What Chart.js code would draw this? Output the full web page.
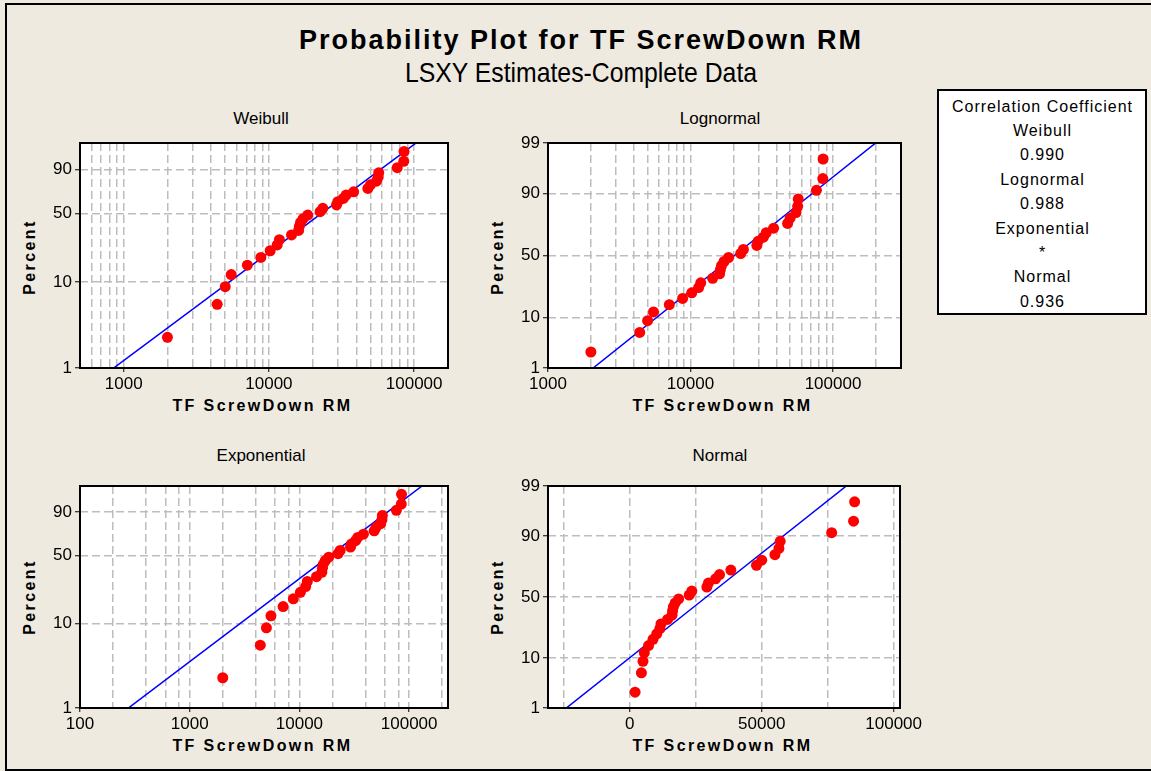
<!DOCTYPE html>
<html>
<head>
<meta charset="utf-8">
<title>Probability Plot for TF ScrewDown RM</title>
<script src="https://cdn.jsdelivr.net/npm/chart.js@4.4.1/dist/chart.umd.min.js"></script>
<style>
  body { margin: 0; background: #EEEAE0; font-family: "Liberation Sans", Arial, sans-serif; }
  #page { position: relative; width: 1151px; height: 771px; overflow: hidden; }
  #frame { position: absolute; left: 5px; top: 3px; width: 1200px; height: 764px; border: 2px solid #000; }
  .txt { position: absolute; white-space: nowrap; color: #000; text-align: center; }
  #title { left: 279px; top: 27px; width: 600px; font-size: 27px; line-height: 27px; font-weight: bold; letter-spacing: 2px; padding-left: 2px; }
  #subtitle { left: 381px; top: 59px; width: 400px; font-size: 28px; line-height: 28px; transform: scaleX(0.885); }
  .ptitle { width: 200px; font-size: 17px; line-height: 17px; }
  .xtitle { width: 300px; font-size: 16px; line-height: 16px; font-weight: bold; letter-spacing: 2.4px; padding-left: 2.4px; }
  .ytitle { width: 120px; height: 16px; font-size: 16px; line-height: 16px; font-weight: bold; letter-spacing: 2.4px; transform: rotate(-90deg); }
  #corr { position: absolute; left: 937px; top: 89px; width: 210px; height: 226px; box-sizing: border-box;
          border: 2px solid #000; background: #fff; text-align: center; font-size: 16px; line-height: 24.4px;
          letter-spacing: 1px; padding-top: 3.5px; padding-left: 1px; }
  canvas { position: absolute; }
</style>
</head>
<body>
<div id="page">
  <div id="frame"></div>
  <div class="txt" id="title">Probability Plot for TF ScrewDown RM</div>
  <div class="txt" id="subtitle">LSXY Estimates-Complete Data</div>

  <div class="txt ptitle" style="left:161px; top:110px;">Weibull</div>
  <div class="txt ptitle" style="left:620px; top:110px;">Lognormal</div>
  <div class="txt ptitle" style="left:161px; top:447px;">Exponential</div>
  <div class="txt ptitle" style="left:620px; top:447px;">Normal</div>

  <div class="txt xtitle" style="left:110px; top:398px;">TF ScrewDown RM</div>
  <div class="txt xtitle" style="left:570px; top:398px;">TF ScrewDown RM</div>
  <div class="txt xtitle" style="left:110px; top:738px;">TF ScrewDown RM</div>
  <div class="txt xtitle" style="left:570px; top:738px;">TF ScrewDown RM</div>

  <div class="txt ytitle" style="left:-30px; top:249px;">Percent</div>
  <div class="txt ytitle" style="left:438px; top:249px;">Percent</div>
  <div class="txt ytitle" style="left:-30px; top:589px;">Percent</div>
  <div class="txt ytitle" style="left:438px; top:589px;">Percent</div>

  <div id="corr"></div>
</div>

<script>
// observed values (sorted) and their plotted percents
const screwDownRM = [2000, 4400, 5000, 5500, 7100, 8800, 10200, 11400, 11800, 14300,
  16000, 16200, 16500, 17200, 18500, 22500, 23500, 29200, 29800, 32500,
  34000, 38300, 48000, 50000, 55000, 56500, 57000, 76500, 84800, 85200];
const percentRank = [2.30, 5.59, 8.88, 12.17, 15.46, 18.75, 22.04, 25.33, 28.62, 31.91,
  35.20, 38.49, 41.78, 45.07, 48.36, 51.64, 54.93, 58.22, 61.51, 64.80,
  68.09, 71.38, 74.67, 77.96, 81.25, 84.54, 87.83, 91.12, 94.41, 97.70];

// fitted distributions (LSXY)
const weibullFit = [1.285, 30600];      // shape, scale
const lognormalFit = [9.92, 0.981];     // location, scale
const exponentialFit = [27500];         // mean
const normalFit = [29000, 22800];       // mean, st dev
const fitPercents = [0.5, 50, 99.7];

// correlation box
const distNames = ["Weibull", "Lognormal", "Exponential", "Normal"];
const corrCoeff = ["0.990", "0.988", "*", "0.936"];

// tick labels and grid lines
const yLabelsWide = [1, 10, 50, 90, 99];
const yLabelsShort = [1, 10, 50, 90];
const weibullXLabels = [1000, 10000, 100000];
const weibullXGrid = [600, 700, 800, 900, 1000, 2000, 3000, 4000, 5000, 6000, 7000, 8000, 9000,
  10000, 20000, 30000, 40000, 50000, 60000, 70000, 80000, 90000, 100000];
const lognormalXLabels = [1000, 10000, 100000];
const lognormalXGrid = [1000, 2000, 3000, 4000, 5000, 6000, 7000, 8000, 9000,
  10000, 20000, 30000, 40000, 50000, 60000, 70000, 80000, 90000, 100000, 200000];
const exponentialXLabels = [100, 1000, 10000, 100000];
const exponentialXGrid = [100, 200, 400, 600, 800, 1000, 2000, 4000, 6000, 8000,
  10000, 20000, 40000, 60000, 80000, 100000, 200000];
const normalXLabels = [0, 50000, 100000];
const normalXGrid = [-25000, 0, 25000, 50000, 75000, 100000];

// box text
let corr = document.getElementById("corr");
let lines = ["Correlation Coefficient"];
for (let i = 0; i < distNames.length; i++) {
  lines.push(distNames[i]);
  lines.push(corrCoeff[i]);
}
corr.innerHTML = lines.map(t => "<div>" + t + "</div>").join("");

// inverse of the standard normal cdf (Acklam)
function invNorm(p) {
  const a = [-3.969683028665376e+01, 2.209460984245205e+02, -2.759285104469687e+02, 1.383577518672690e+02, -3.066479806614716e+01, 2.506628277459239e+00];
  const b = [-5.447609879822406e+01, 1.615858368580409e+02, -1.556989798598866e+02, 6.680131188771972e+01, -1.328068155288572e+01];
  const c = [-7.784894002430293e-03, -3.223964580411365e-01, -2.400758277161838e+00, -2.549732539343734e+00, 4.374664141464968e+00, 2.938163982698783e+00];
  const d = [7.784695709041462e-03, 3.224671290700398e-01, 2.445134137142996e+00, 3.754408661907416e+00];
  let q, r;
  if (p < 0.02425) {
    q = Math.sqrt(-2 * Math.log(p));
    return (((((c[0]*q+c[1])*q+c[2])*q+c[3])*q+c[4])*q+c[5]) / ((((d[0]*q+d[1])*q+d[2])*q+d[3])*q+1);
  }
  if (p > 1 - 0.02425) {
    q = Math.sqrt(-2 * Math.log(1 - p));
    return -(((((c[0]*q+c[1])*q+c[2])*q+c[3])*q+c[4])*q+c[5]) / ((((d[0]*q+d[1])*q+d[2])*q+d[3])*q+1);
  }
  q = p - 0.5; r = q * q;
  return (((((a[0]*r+a[1])*r+a[2])*r+a[3])*r+a[4])*r+a[5])*q / (((((b[0]*r+b[1])*r+b[2])*r+b[3])*r+b[4])*r+1);
}

// probability paper transforms (percent -> axis units)
let weibullPaper = p => Math.log(-Math.log(1 - p / 100));
let normalPaper = p => invNorm(p / 100);

let panels = [
  { area: [80, 143, 448, 368], xType: "logarithmic", xMin: 500, xMax: 171000,
    xGrid: weibullXGrid, xLabels: weibullXLabels, paper: weibullPaper, yTop: 1.56, yLabels: yLabelsShort,
    quantile: p => weibullFit[1] * Math.pow(-Math.log(1 - p / 100), 1 / weibullFit[0]) },
  { area: [548, 143, 901, 368], xType: "logarithmic", xMin: 1000, xMax: 300000,
    xGrid: lognormalXGrid, xLabels: lognormalXLabels, paper: normalPaper, yTop: normalPaper(99), yLabels: yLabelsWide,
    quantile: p => Math.exp(lognormalFit[0] + lognormalFit[1] * invNorm(p / 100)) },
  { area: [80, 486, 448, 708], xType: "logarithmic", xMin: 100, xMax: 226000,
    xGrid: exponentialXGrid, xLabels: exponentialXLabels, paper: weibullPaper, yTop: 1.56, yLabels: yLabelsShort,
    quantile: p => exponentialFit[0] * -Math.log(1 - p / 100) },
  { area: [548, 486, 900, 708], xType: "linear", xMin: -31000, xMax: 102400,
    xGrid: normalXGrid, xLabels: normalXLabels, paper: normalPaper, yTop: normalPaper(99), yLabels: yLabelsWide,
    quantile: p => normalFit[0] + normalFit[1] * invNorm(p / 100) }
];

//white plot area + black frame
const framePlugin = {
  id: "frame",
  beforeDraw(chart) {
    let a = chart.chartArea, ctx = chart.ctx;
    ctx.save();
    ctx.fillStyle = "#fff";
    ctx.fillRect(a.left, a.top, a.right - a.left, a.bottom - a.top);
    ctx.restore();
  },
  afterDraw(chart) {
    let a = chart.chartArea, ctx = chart.ctx;
    ctx.save();
    ctx.strokeStyle = "#000";
    ctx.lineWidth = 2;
    ctx.strokeRect(a.left, a.top, a.right - a.left, a.bottom - a.top);
    ctx.restore();
  }
};

Chart.defaults.font.family = '"Liberation Sans", Arial, sans-serif';
Chart.defaults.color = "#000";

let page = document.getElementById("page");
const padL = 60, padT = 20, padR = 40, padB = 30;

panels.forEach(p => {
  let [L, T, R, B] = p.area;
  let canvas = document.createElement("canvas");
  canvas.width = R - L + padL + padR;
  canvas.height = B - T + padT + padB;
  canvas.style.left = (L - padL) + "px";
  canvas.style.top = (T - padT) + "px";
  page.appendChild(canvas);

  new Chart(canvas, {
    type: "scatter",
    data: {
      datasets: [{
        data: screwDownRM.map((v, i) => ({ x: v, y: p.paper(percentRank[i]) })),
        backgroundColor: "#FF0000",
        borderWidth: 0,
        pointRadius: 5.5,
        pointHoverRadius: 5.5
      }, {
        data: fitPercents.map(q => ({ x: p.quantile(q), y: p.paper(q) })),
        showLine: true,
        borderColor: "#0000FF",
        borderWidth: 1.5,
        pointRadius: 0,
        pointHoverRadius: 0
      }]
    },
    options: {
      responsive: false,
      animation: false,
      layout: { padding: { left: 0, top: padT, right: padR, bottom: 0 } },
      plugins: { legend: { display: false }, tooltip: { enabled: false } },
      scales: {
        x: {
          type: p.xType,
          min: p.xMin,
          max: p.xMax,
          afterBuildTicks: s => { s.ticks = p.xGrid.map(v => ({ value: v })); },
          afterFit: s => { s.height = padB; },
          ticks: {
            autoSkip: false, maxRotation: 0, padding: 2,
            font: { size: 17 },
            callback: v => p.xLabels.includes(v) ? String(v) : ""
          },
          grid: {
            color: "#BDBDBD", lineWidth: 1.5, tickLength: 4, tickWidth: 1, tickBorderDash: [],
            tickColor: c => (c.tick && p.xLabels.includes(c.tick.value)) ? "#000" : "rgba(0,0,0,0)"
          },
          border: { display: false, dash: [8, 4] }
        },
        y: {
          type: "linear",
          min: p.paper(1),
          max: p.yTop,
          afterBuildTicks: s => { s.ticks = p.yLabels.map(v => ({ value: p.paper(v) })); },
          afterFit: s => { s.width = padL; },
          ticks: {
            autoSkip: false, padding: 3,
            font: { size: 17 },
            callback: (v, i) => String(p.yLabels[i])
          },
          grid: { color: "#BDBDBD", lineWidth: 1.5, tickLength: 5, tickWidth: 1, tickColor: "#000", tickBorderDash: [] },
          border: { display: false, dash: [8, 4] }
        }
      }
    },
    plugins: [framePlugin]
  });
});
</script>
</body>
</html>
